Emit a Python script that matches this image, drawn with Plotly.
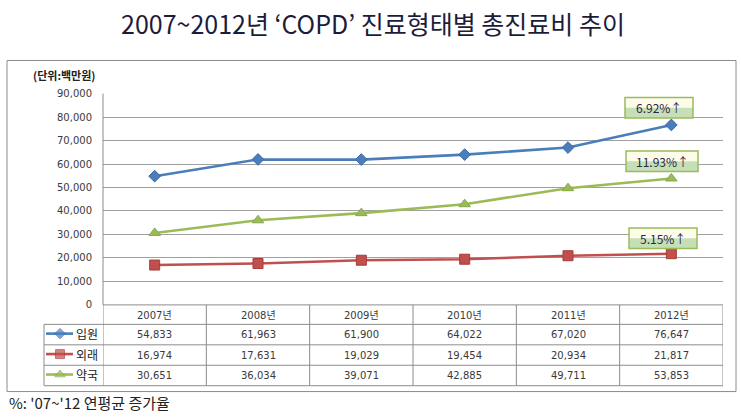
import plotly.graph_objects as go

W, H = 741, 418

# ---- data ----
years = ["2007년", "2008년", "2009년", "2010년", "2011년", "2012년"]
series_names = ["입원", "외래", "약국"]
inpatient = [54833, 61963, 61900, 64022, 67020, 76647]
outpatient = [16974, 17631, 19029, 19454, 20934, 21817]
pharmacy = [30651, 36034, 39071, 42885, 49711, 53853]
growth_labels = ["6.92%↑", "11.93%↑", "5.15%↑"]
y_ticks = list(range(0, 90001, 10000))
title_text = "2007~2012년 ‘COPD’ 진료형태별 총진료비 추이"
unit_text = "(단위:백만원)"
note_text = "%: '07~'12 연평균 증가율"

values = [inpatient, outpatient, pharmacy]
colors = ["#4a7ebb", "#c0504d", "#9bbb59"]
edge = ["#3a6aa5", "#a83c39", "#86a846"]
symbols = ["diamond", "square", "triangle-up"]
msize = [9, 10, 10]


def px(x):
    return x / W


def py(y):
    return 1 - y / H


fig = go.Figure()
xs = list(range(len(years)))
for name, vals, c, e, s, m in zip(series_names, values, colors, edge, symbols, msize):
    fig.add_trace(go.Scatter(
        x=xs, y=vals, name=name, mode="lines+markers",
        line=dict(color=c, width=2.6),
        marker=dict(symbol=s, size=m, color=c, line=dict(color=e, width=1)),
        cliponaxis=False, showlegend=False, xaxis="x", yaxis="y"))

# legend keys inside table (overlay pixel axes)
row_top = [328, 349, 370]
row_h = 21
for i, (name, c, e, s, m) in enumerate(zip(series_names, colors, edge, symbols, msize)):
    yc = row_top[i] + row_h / 2 - 1
    fig.add_trace(go.Scatter(
        x=[46, 60, 73], y=[yc, yc, yc], mode="lines+markers",
        line=dict(color=c, width=2.6),
        marker=dict(symbol=s, size=[0, m - 1, 0], color=c, line=dict(color=e, width=1)),
        showlegend=False, hoverinfo="skip", xaxis="x2", yaxis="y2"))

shapes = []
annotations = []

# outer frame
shapes.append(dict(type="rect", xref="paper", yref="paper",
                   x0=px(7), x1=px(736), y0=py(397), y1=py(57),
                   line=dict(color="#8c8c8c", width=1)))

# y axis line
shapes.append(dict(type="line", xref="paper", yref="paper",
                   x0=px(103), x1=px(103), y0=py(308), y1=py(91),
                   line=dict(color="#8c8c8c", width=1)))

# table grid
tbl_color = "#8c8c8c"
for i in range(len(years) + 1):
    shapes.append(dict(type="line", xref="x", yref="paper",
                       x0=i - 0.5, x1=i - 0.5, y0=py(391), y1=py(308),
                       line=dict(color=tbl_color, width=1)))
shapes.append(dict(type="line", xref="paper", yref="paper",
                   x0=px(44), x1=px(44), y0=py(391), y1=py(328),
                   line=dict(color=tbl_color, width=1)))
for yy in [328, 349, 370, 391]:
    shapes.append(dict(type="line", xref="paper", yref="paper",
                       x0=px(44), x1=px(723), y0=py(yy), y1=py(yy),
                       line=dict(color=tbl_color, width=1)))
shapes.append(dict(type="line", xref="paper", yref="paper",
                   x0=px(103), x1=px(723), y0=py(308), y1=py(308),
                   line=dict(color=tbl_color, width=1)))


def ann(x, y, text, font, xref="paper", xanchor="center"):
    annotations.append(dict(x=x, y=y, xref=xref, yref="paper", text=text,
                            showarrow=False, xanchor=xanchor, yanchor="middle",
                            font=font))


cell_font = dict(family="DejaVu Sans, Noto Sans CJK KR", size=10, color="#3a3a3a")
for j, yr in enumerate(years):
    ann(j, py(318.5), yr, cell_font, xref="x")
for i, vals in enumerate(values):
    yc = row_top[i] + row_h / 2
    for j, v in enumerate(vals):
        ann(j, py(yc), f"{v:,}", cell_font, xref="x")
    ann(px(74), py(yc - 1), series_names[i],
        dict(family="Noto Sans CJK KR", size=12, color="#222222"), xanchor="left")

# growth boxes
boxes = [(625, 693, 95, 116), (626, 698, 150, 171), (629, 697, 229, 250)]
for lab, (x0, x1, y0, y1) in zip(growth_labels, boxes):
    ym = y0 + (y1 - y0) * 0.5
    shapes.append(dict(type="rect", xref="paper", yref="paper",
                       x0=px(x0), x1=px(x1), y0=py(ym), y1=py(y0),
                       fillcolor="#fdfbe9", line=dict(width=0)))
    shapes.append(dict(type="rect", xref="paper", yref="paper",
                       x0=px(x0), x1=px(x1), y0=py(y1), y1=py(ym),
                       fillcolor="#c5dfb6", line=dict(width=0)))
    shapes.append(dict(type="rect", xref="paper", yref="paper",
                       x0=px(x0), x1=px(x1), y0=py(y1), y1=py(y0),
                       fillcolor="rgba(0,0,0,0)", line=dict(color="#9bbb59", width=1.5)))
    ann(px((x0 + x1) / 2), py((y0 + y1) / 2), lab,
        dict(family="Noto Sans CJK KR", size=12, color="#2e2448"))

# title, unit, note
ann(px(373), py(19), title_text, dict(family="Noto Sans CJK KR", size=25, color="#1c1c3a"))
ann(px(64), py(72), unit_text,
    dict(family="Noto Sans CJK KR", size=11, color="#222222", weight="bold"))
ann(px(7), py(408), note_text, dict(family="Noto Sans CJK KR", size=15, color="#222222"),
    xanchor="left")

fig.update_layout(
    width=W, height=H,
    margin=dict(l=0, r=0, t=0, b=0),
    paper_bgcolor="white", plot_bgcolor="rgba(0,0,0,0)",
    xaxis=dict(domain=[px(103), px(723)], range=[-0.5, len(years) - 0.5],
               showgrid=False, showticklabels=False, zeroline=False, showline=False,
               fixedrange=True, anchor="y"),
    yaxis=dict(domain=[py(308), py(91)], range=[0, 90000], tickvals=y_ticks,
               tickformat=",", showgrid=True, gridcolor="#a0a0a0", gridwidth=1,
               zeroline=False, showline=False, ticks="", ticklabelstandoff=10,
               tickfont=dict(family="DejaVu Sans", size=10, color="#3a3a3a"),
               fixedrange=True, anchor="x"),
    xaxis2=dict(domain=[0, 1], range=[0, W], visible=False, anchor="y2", fixedrange=True),
    yaxis2=dict(domain=[0, 1], range=[H, 0], visible=False, anchor="x2", fixedrange=True),
    shapes=shapes, annotations=annotations,
)

fig.write_html("out.html", config={"displayModeBar": False},
               post_script="document.body.style.margin='0';")
